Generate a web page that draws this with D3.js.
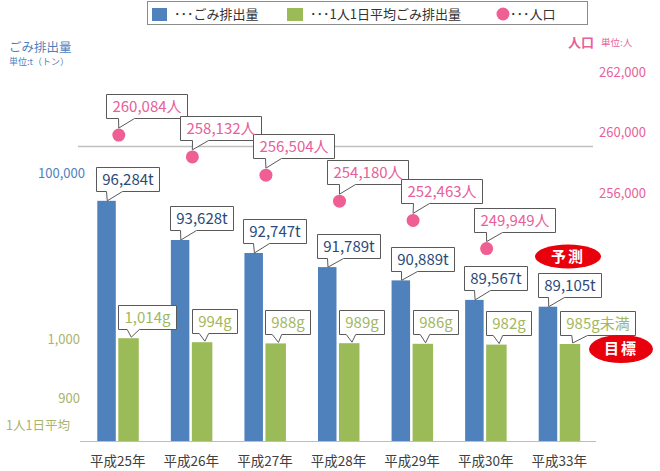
<!DOCTYPE html>
<html><head><meta charset="utf-8">
<script src="https://cdn.jsdelivr.net/npm/d3@7"></script>
<style>body{margin:0;background:#fff} text{font-family:"Noto Sans CJK JP","Noto Sans",sans-serif}</style>
</head><body><svg id="c" width="660" height="471"></svg>
<script>
const categories = ["平成25年","平成26年","平成27年","平成28年","平成29年","平成30年","平成33年"];
const wasteTotal = [96284, 93628, 92747, 91789, 90889, 89567, 89105];
const wasteTotalLabels = ["96,284t","93,628t","92,747t","91,789t","90,889t","89,567t","89,105t"];
const wastePerCapita = [1014, 994, 988, 989, 986, 982, 985];
const perCapitaLabels = ["1,014g","994g","988g","989g","986g","982g","985g未満"];
const population = [260084, 258132, 256504, 254180, 252463, 249949];
const populationLabels = ["260,084人","258,132人","256,504人","254,180人","252,463人","249,949人"];
const leftTicksTotal = ["100,000"];
const leftTicksPerCapita = ["1,000", "900"];
const rightTicks = ["262,000", "260,000", "256,000"];
const legendItems = ["･･･ごみ排出量", "･･･1人1日平均ごみ排出量", "･･･人口"];

const BLUE = "#4f81bd", GREEN = "#9bbb59", PINK = "#ef5f94";
const BLUE_TXT = "#2b4a77", GREEN_TXT = "#a2b760", PINK_TXT = "#e8609a";
const AX_BLUE = "#4f7fbf", AX_GREEN = "#a9b46a";

const svg = d3.select("#c");
const x = d3.scaleBand().domain(categories).range([81, 596]);
const cx = c => x(c) + x.bandwidth() / 2;
const yTotal = d3.scaleLinear().domain([80000, 100000]).range([441, 146]);
const yPer = d3.scaleLinear().domain([500, 1000]).range([441, 341]);
const yPop = d3.scaleLinear().domain([250000, 260000]).range([248, 136]);

// legend
const lg = svg.append("g");
lg.append("rect").attr("x", 147.5).attr("y", 1.5).attr("width", 440).attr("height", 23)
  .attr("fill", "#fff").attr("stroke", "#8c8c8c");
lg.append("rect").attr("x", 152).attr("y", 8).attr("width", 15).attr("height", 13).attr("fill", BLUE);
lg.append("rect").attr("x", 287).attr("y", 8).attr("width", 16).attr("height", 13).attr("fill", GREEN);
lg.append("circle").attr("cx", 503).attr("cy", 14).attr("r", 6.5).attr("fill", PINK);
[[174, 0], [310, 1], [510, 2]].forEach(([lx, i]) => {
  lg.append("text").attr("x", lx).attr("y", 19).attr("font-size", 13).attr("fill", "#333").text(legendItems[i]);
});

// left titles
svg.append("text").attr("x", 9).attr("y", 52).attr("font-size", 12.5).attr("fill", AX_BLUE).text("ごみ排出量");
svg.append("text").attr("x", 9).attr("y", 65).attr("font-size", 9).attr("fill", AX_BLUE).text("単位:t（トン）");
// right titles
svg.append("text").attr("x", 568).attr("y", 47).attr("font-size", 13).attr("font-weight", "bold").attr("fill", PINK_TXT).text("人口");
svg.append("text").attr("x", 601).attr("y", 46).attr("font-size", 9.5).attr("fill", PINK_TXT).text("単位:人");

// right tick labels (decorative, evenly spaced)
const rp = d3.scalePoint().domain(rightTicks).range([72, 193]);
rightTicks.forEach(t => svg.append("text").attr("x", 646).attr("y", rp(t)).attr("dy", "0.35em")
  .attr("text-anchor", "end").attr("font-size", 13).attr("fill", PINK_TXT).text(t));

// left tick labels
svg.append("text").attr("x", 85).attr("y", 173).attr("dy", "0.35em").attr("text-anchor", "end")
  .attr("font-size", 13).attr("fill", AX_BLUE).text(leftTicksTotal[0]);
const lp = d3.scalePoint().domain(leftTicksPerCapita).range([339, 398]);
leftTicksPerCapita.forEach(t => svg.append("text").attr("x", 80).attr("y", lp(t)).attr("dy", "0.35em")
  .attr("text-anchor", "end").attr("font-size", 13).attr("fill", AX_GREEN).text(t));
svg.append("text").attr("x", 6).attr("y", 426).attr("dy", "0.35em").attr("font-size", 12.5)
  .attr("fill", AX_GREEN).text("1人1日平均");

// gridline
svg.append("line").attr("x1", 78).attr("x2", 593).attr("y1", Math.round(yTotal(100000)) + 0.5)
  .attr("y2", Math.round(yTotal(100000)) + 0.5).attr("stroke", "#bfbfbf").attr("stroke-width", 1.5);

// bars
svg.append("g").selectAll("rect").data(categories).join("rect")
  .attr("x", c => cx(c) - 20.5).attr("width", 18.5)
  .attr("y", (c, i) => yTotal(wasteTotal[i])).attr("height", (c, i) => 441 - yTotal(wasteTotal[i]))
  .attr("fill", BLUE);
svg.append("g").selectAll("rect").data(categories).join("rect")
  .attr("x", c => cx(c) + 0.5).attr("width", 20.5)
  .attr("y", (c, i) => yPer(wastePerCapita[i])).attr("height", (c, i) => 441 - yPer(wastePerCapita[i]))
  .attr("fill", GREEN);

// axis baseline
svg.append("line").attr("x1", 80).attr("x2", 596).attr("y1", 441.5).attr("y2", 441.5).attr("stroke", "#bdbdbd");

// category labels
categories.forEach(c => svg.append("text").attr("x", cx(c)).attr("y", 461).attr("dy", "0.35em")
  .attr("text-anchor", "middle").attr("font-size", 13.5).attr("fill", "#404040").text(c));

// population dots
population.forEach((p, i) => svg.append("circle").attr("cx", cx(categories[i]) + 1).attr("cy", yPop(p))
  .attr("r", 6.5).attr("fill", PINK));

// callouts
const cg = svg.append("g");
function callout(x0, y1, label, color, size, tailA, tailB, tx, ty) {
  const t = cg.append("text").attr("font-size", size).attr("fill", color).text(label);
  const tw = t.node().getComputedTextLength();
  const w = Math.round(tw + 12), h = 24;
  x0 = Math.round(x0) + 0.5; y1 = Math.round(y1) + 0.5;
  const y0 = y1 - h, x1 = x0 + w;
  const bL = x0 + tailA(w), bR = x0 + tailB(w);
  cg.insert("path", "text").attr("d", `M${x0},${y0}H${x1}V${y1}H${bR}L${tx},${ty}L${bL},${y1}H${x0}Z`)
    .attr("fill", "#fff").attr("stroke", "#595959").attr("stroke-width", 1);
  t.attr("x", x0 + w / 2).attr("y", y0 + h / 2).attr("dy", "0.36em").attr("text-anchor", "middle");
}
categories.forEach((c, i) => {
  const bx = cx(c) - 20.5, by = yTotal(wasteTotal[i]);
  callout(bx - 1, by - 9.5, wasteTotalLabels[i], BLUE_TXT, 15, w => 10, w => 26, bx + 10, by);
});
categories.forEach((c, i) => {
  const gx = cx(c) + 0.5, gy = yPer(wastePerCapita[i]);
  callout(gx, gy - 9.5, perCapitaLabels[i], GREEN_TXT, 15, w => w * 0.15, w => w * 0.36, gx + 13, gy - 1);
});
population.forEach((p, i) => {
  const px = cx(categories[i]) + 1, py = yPop(p);
  callout(px - 12.5, py - 17, populationLabels[i], PINK_TXT, 15, w => 12, w => 28, px, py - 7);
});

// red ellipses
[["予測", 568, 256.5, 33, 12], ["目標", 621, 349, 32, 14]].forEach(([t, ex, ey, rx, ry]) => {
  svg.append("ellipse").attr("cx", ex).attr("cy", ey).attr("rx", rx).attr("ry", ry).attr("fill", "#e8000d");
  svg.append("text").attr("x", ex).attr("y", ey).attr("dy", "0.36em").attr("text-anchor", "middle")
    .attr("font-size", 15).attr("font-weight", "bold").attr("letter-spacing", 2).attr("fill", "#fff").text(t);
});
</script></body></html>
